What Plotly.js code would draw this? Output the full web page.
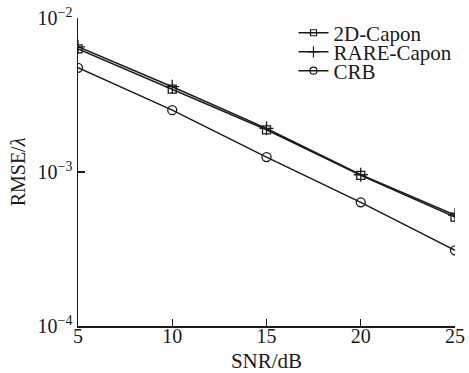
<!DOCTYPE html>
<html>
<head>
<meta charset="utf-8">
<script src="https://cdn.plot.ly/plotly-3.0.1.min.js"></script>
<style>html,body{margin:0;padding:0;background:#fff;}#chart{width:469px;height:373px;}</style>
</head>
<body>
<div id="chart"></div>
<script>
const snr = [5, 10, 15, 20, 25];
const capon2D = [6.3e-3, 3.45e-3, 1.88e-3, 9.5e-4, 5.1e-4];
const rareCapon = [6.5e-3, 3.58e-3, 1.92e-3, 9.6e-4, 5.25e-4];
const crb = [4.75e-3, 2.52e-3, 1.25e-3, 6.35e-4, 3.1e-4];
const seriesNames = ['2D-Capon', 'RARE-Capon', 'CRB'];
const yTickVals = [1e-4, 1e-3, 1e-2];
const yTickText = ['10<sup>−4</sup>', '10<sup>−3</sup>', '10<sup>−2</sup>'];
const xTickVals = [5, 10, 15, 20, 25];

const ink = '#1a1a1a';
const font = 'Liberation Serif, Times New Roman, serif';
const symbols = ['square-open', 'cross-thin-open', 'circle-open'];
const dataSizes = [8, 10, 9];
const legendSizes = [6, 8, 7];
const seriesY = [capon2D, rareCapon, crb];
const legendIds = ['legend', 'legend2', 'legend3'];

const traces = [];
seriesY.forEach((ys, i) => {
  traces.push({x: snr, y: ys, name: seriesNames[i], mode: 'lines+markers', showlegend: false,
    line: {color: ink, width: 1.5},
    marker: {symbol: symbols[i], size: dataSizes[i], color: ink, line: {width: 1.3, color: ink}}});
});
// legend-only entries with smaller sample markers
seriesY.forEach((ys, i) => {
  traces.push({x: [null], y: [null], name: seriesNames[i], mode: 'lines+markers', showlegend: true,
    legend: legendIds[i], hoverinfo: 'skip',
    line: {color: ink, width: 1.5},
    marker: {symbol: symbols[i], size: legendSizes[i], color: ink, line: {width: 1.2, color: ink}}});
});

const rowY = [0.951, 0.889, 0.828];
function mkLegend(y) {
  return {x: 0.57, y: y, xanchor: 'left', yanchor: 'middle',
          bgcolor: 'rgba(0,0,0,0)', borderwidth: 0,
          font: {family: font, size: 21, color: ink}, itemwidth: 30};
}

const layout = {
  width: 469, height: 373,
  margin: {l: 78, r: 13, t: 18, b: 47},
  paper_bgcolor: '#fff', plot_bgcolor: '#fff',
  font: {family: font, size: 20, color: ink},
  showlegend: true,
  legend: mkLegend(rowY[0]),
  legend2: mkLegend(rowY[1]),
  legend3: mkLegend(rowY[2]),
  xaxis: {range: [5, 25], tickvals: xTickVals, ticks: 'inside', ticklen: 7,
          tickwidth: 1.3, tickcolor: ink, showline: true, linecolor: ink, linewidth: 1.5,
          showgrid: false, zeroline: false, mirror: false, ticklabelstandoff: -9,
          tickfont: {family: font, size: 20, color: ink},
          title: {text: 'SNR/dB', font: {family: font, size: 21, color: ink}, standoff: 11}},
  yaxis: {type: 'log', range: [-4, -2], tickvals: yTickVals, ticktext: yTickText,
          ticks: 'inside', ticklen: 7, tickwidth: 1.3, tickcolor: ink,
          showline: true, linecolor: ink, linewidth: 1.5, showgrid: false, zeroline: false,
          tickfont: {family: font, size: 20, color: ink},
          title: {text: 'RMSE/<i>λ</i>', font: {family: font, size: 20, color: ink}, standoff: 6}}
};

Plotly.newPlot('chart', traces, layout, {displayModeBar: false, staticPlot: true});
</script>
</body>
</html>
